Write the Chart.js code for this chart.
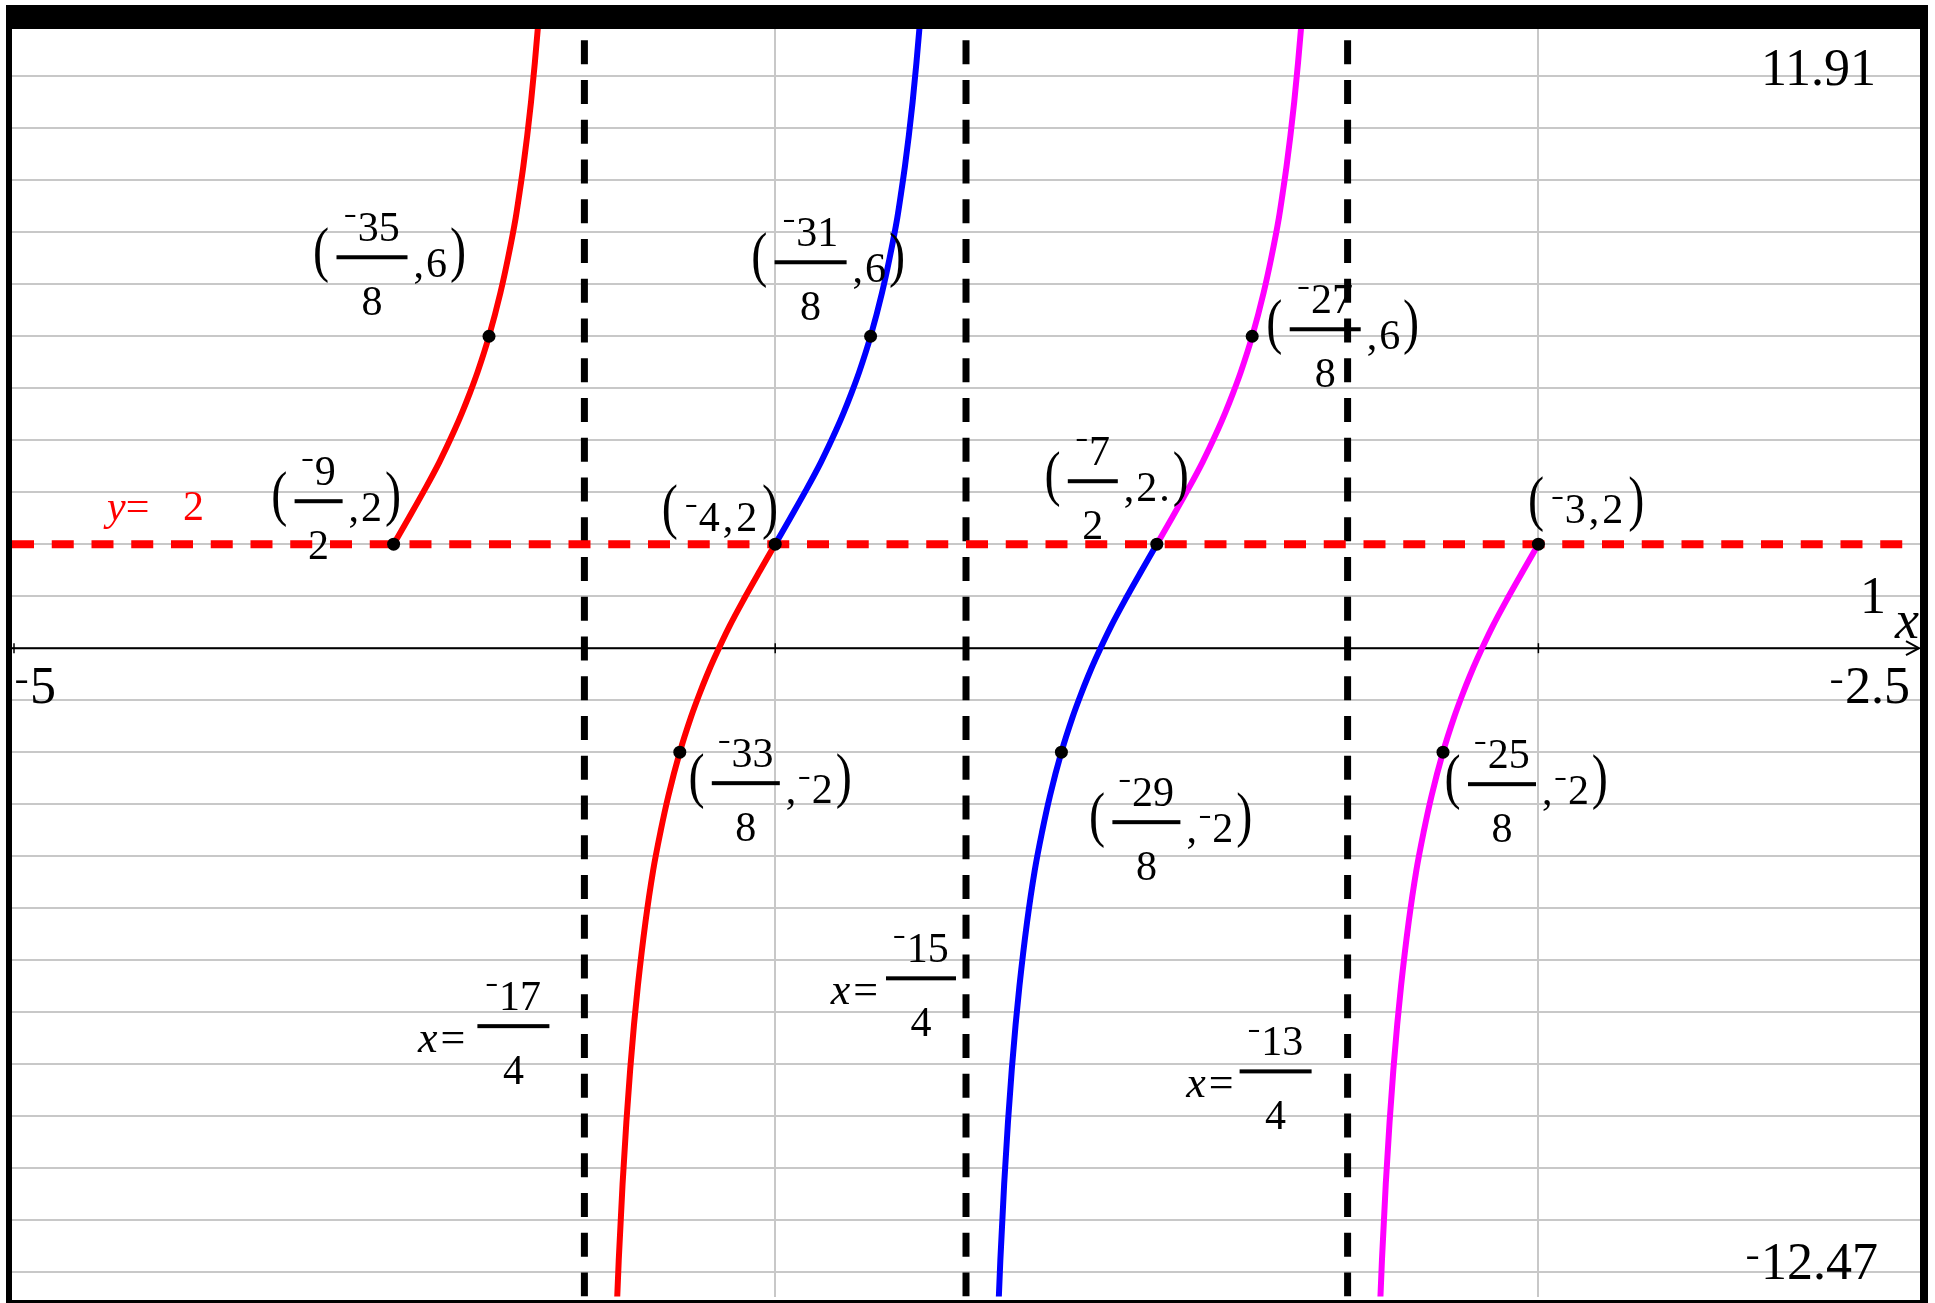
<!DOCTYPE html>
<html>
<head>
<meta charset="utf-8">
<script src="https://cdn.jsdelivr.net/npm/chart.js@4/dist/chart.umd.min.js"></script>
<style>
html,body{margin:0;padding:0;background:#fff;}
#wrap{position:relative;width:1935px;height:1303px;}
canvas{display:block;}
</style>
</head>
<body>
<div id="wrap"><canvas id="c" width="1935" height="1303"></canvas></div>
<script>
// ---------- window ----------
const xMin = -5, xMax = -2.5, yMin = -12.47, yMax = 11.91;
const xScaleStep = 1;

// ---------- grid ticks ----------
const xGridTicks = [-4, -3];
const yGridTicks = [-12,-11,-10,-9,-8,-7,-6,-5,-4,-3,-2,-1,0,1,2,3,4,5,6,7,8,9,10,11];

// ---------- curve branches ----------
const redUpperX = [-4.5,-4.48,-4.46,-4.44,-4.42,-4.41,-4.40,-4.39,-4.375,-4.36,-4.35,-4.34,-4.335,-4.33,-4.325,-4.32,-4.315,-4.31];
const redUpperY = [2,2.51,3.03,3.58,4.20,4.54,4.91,5.31,6,6.84,7.51,8.28,8.76,9.27,9.85,10.50,11.25,12.10];
const redLowerX = [-4.21,-4.205,-4.2,-4.195,-4.19,-4.185,-4.18,-4.17,-4.16,-4.15,-4.14,-4.125,-4.11,-4.10,-4.09,-4.08,-4.06,-4.04,-4.02,-4.0];
const redLowerY = [-13.58,-11.77,-10.31,-9.11,-8.10,-7.24,-6.50,-5.27,-4.28,-3.51,-2.84,-2,-1.31,-0.91,-0.54,-0.20,0.42,0.97,1.49,2];

const blueUpperX = [-4.0,-3.98,-3.96,-3.94,-3.92,-3.91,-3.90,-3.89,-3.875,-3.86,-3.85,-3.84,-3.835,-3.83,-3.825,-3.82,-3.815,-3.81];
const blueUpperY = [2,2.51,3.03,3.58,4.20,4.54,4.91,5.31,6,6.84,7.51,8.28,8.76,9.27,9.85,10.50,11.25,12.10];
const blueLowerX = [-3.71,-3.705,-3.70,-3.695,-3.69,-3.685,-3.68,-3.67,-3.66,-3.65,-3.64,-3.625,-3.61,-3.60,-3.59,-3.58,-3.56,-3.54,-3.52,-3.5];
const blueLowerY = [-13.58,-11.77,-10.31,-9.11,-8.10,-7.24,-6.50,-5.27,-4.28,-3.51,-2.84,-2,-1.31,-0.91,-0.54,-0.20,0.42,0.97,1.49,2];

const magentaUpperX = [-3.5,-3.48,-3.46,-3.44,-3.42,-3.41,-3.40,-3.39,-3.375,-3.36,-3.35,-3.34,-3.335,-3.33,-3.325,-3.32,-3.315,-3.31];
const magentaUpperY = [2,2.51,3.03,3.58,4.20,4.54,4.91,5.31,6,6.84,7.51,8.28,8.76,9.27,9.85,10.50,11.25,12.10];
const magentaLowerX = [-3.21,-3.205,-3.20,-3.195,-3.19,-3.185,-3.18,-3.17,-3.16,-3.15,-3.14,-3.125,-3.11,-3.10,-3.09,-3.08,-3.06,-3.04,-3.02,-3.0];
const magentaLowerY = [-13.58,-11.77,-10.31,-9.11,-8.10,-7.24,-6.50,-5.27,-4.28,-3.51,-2.84,-2,-1.31,-0.91,-0.54,-0.20,0.42,0.97,1.49,2];

// ---------- asymptotes and horizontal line ----------
const asymptoteX = [-4.25, -3.75, -3.25];
const asymptoteNum = ['⁻17', '⁻15', '⁻13'];
const asymptoteDen = ['4', '4', '4'];
const hLineY = 2;
const hLineText = '2';

// ---------- labelled points ----------
const pointX = [-4.5, -4.375, -4.125, -4, -3.875, -3.625, -3.5, -3.375, -3.125, -3];
const pointY = [2, 6, -2, 2, 6, -2, 2, 6, -2, 2];
const pointNum  = ['⁻9', '⁻35', '⁻33', null, '⁻31', '⁻29', '⁻7', '⁻27', '⁻25', null];
const pointDen  = ['2', '8', '8', null, '8', '8', '2', '8', '8', null];
const pointRest = [',2', ',6', ',⁻2', '⁻4,2', ',6', ',⁻2', ',2.', ',6', ',⁻2', '⁻3,2'];

// ---------- label layout (pixel offsets, not data) ----------
const pointLabelLayout = [
  {dx:-75,  dy:-43, w:48},
  {dx:-117, dy:-79, w:71},
  {dx:66,   dy:31,  w:68},
  {dx:-54,  dy:-13},
  {dx:-60,  dy:-74, w:72},
  {dx:85,   dy:70,  w:68},
  {dx:-64,  dy:-63, w:50},
  {dx:73,   dy:-7,  w:71},
  {dx:59,   dy:32,  w:68},
  {dx:49,   dy:-21}
];
const asymLabelLayout = [
  {barDx:-71,  barAt:-7.27, eqRight:-119, w:72},
  {barDx:-45,  barAt:-6.35, eqRight:-88,  w:70},
  {barDx:-72,  barAt:-8.14, eqRight:-114, w:72}
];

const SERIF = '"Liberation Serif", "DejaVu Serif", serif';
const LS = 42;   // label font size
const BS = 52;   // window-value font size

function pts(xs, ys) { return xs.map((x, i) => ({x: x, y: ys[i]})); }
function fmt(v) { return v < 0 ? '⁻' + String(Math.abs(v)) : String(v); }

function curve(label, xs, ys, color) {
  return {label, data: pts(xs, ys), showLine: true, borderColor: color, borderWidth: 6,
    pointRadius: 0, pointHoverRadius: 0, cubicInterpolationMode: 'monotone', fill: false, order: 1};
}

const datasets = [
  curve('red upper', redUpperX, redUpperY, '#ff0000'),
  curve('red lower', redLowerX, redLowerY, '#ff0000'),
  curve('blue upper', blueUpperX, blueUpperY, '#0000ff'),
  curve('blue lower', blueLowerX, blueLowerY, '#0000ff'),
  curve('magenta upper', magentaUpperX, magentaUpperY, '#ff00ff'),
  curve('magenta lower', magentaLowerX, magentaLowerY, '#ff00ff'),
  {label: 'y=2', data: pts([xMin, xMax], [hLineY, hLineY]), showLine: true, borderColor: '#ff0000',
    borderWidth: 8, borderDash: [22, 17.75], pointRadius: 0, order: 2},
];
asymptoteX.forEach((a, i) => {
  datasets.push({label: 'asym' + i, data: pts([a, a], [yMin, yMax]), showLine: true, borderColor: '#000',
    borderWidth: 7, borderDash: [24, 15.75], pointRadius: 0, order: 3});
});
datasets.push({label: 'points', data: pts(pointX, pointY), showLine: false, pointRadius: 6.5,
  pointBackgroundColor: '#000', pointBorderWidth: 0, pointHoverRadius: 6.5, order: 0});

// draws text; the '⁻' sign is drawn as a short raised dash glyph (TI style)
function drawRich(ctx, text, x, y, size, o) {
  o = o || {};
  const italic = !!o.italic, align = o.align || 'left';
  const mLen = o.minusLen || 0.25, mRaise = o.minusRaise || 0.6, spacing = o.spacing || 0;
  const font = (italic ? 'italic ' : '') + size + 'px ' + SERIF;
  const runs = [];
  let buf = '';
  for (const ch of text) {
    if (ch === '⁻') { if (buf) runs.push({t: buf}); buf = ''; runs.push({minus: true}); }
    else buf += ch;
  }
  if (buf) runs.push({t: buf});
  ctx.save();
  ctx.textAlign = 'left';
  ctx.textBaseline = 'alphabetic';
  ctx.font = font;
  ctx.letterSpacing = spacing + 'px';
  let total = 0;
  runs.forEach((r, k) => {
    r.w = r.minus ? size * (mLen + 0.07) : ctx.measureText(r.t).width - (k === runs.length - 1 ? spacing : 0);
    total += r.w;
  });
  let cx = align === 'center' ? x - total / 2 : align === 'right' ? x - total : x;
  runs.forEach(r => {
    if (r.minus) {
      ctx.save();
      ctx.letterSpacing = '0px';
      ctx.font = '100px ' + SERIF;
      const m = ctx.measureText('⁻');
      const gw = m.actualBoundingBoxLeft + m.actualBoundingBoxRight;
      const gh = m.actualBoundingBoxAscent + m.actualBoundingBoxDescent;
      const sx = size * mLen / gw, sy = size * 0.055 / gh;
      ctx.translate(cx + size * 0.02, y - size * mRaise);
      ctx.scale(sx, sy);
      ctx.fillText('⁻', m.actualBoundingBoxLeft, (m.actualBoundingBoxAscent - m.actualBoundingBoxDescent) / 2);
      ctx.restore();
    } else {
      ctx.fillText(r.t, cx, y);
    }
    cx += r.w;
  });
  ctx.restore();
  return total;
}

function drawParen(ctx, ch, x, cy, h, align) {
  ctx.save();
  ctx.textAlign = 'left';
  ctx.textBaseline = 'alphabetic';
  ctx.letterSpacing = '0px';
  ctx.font = '44px ' + SERIF;
  const m = ctx.measureText(ch);
  const asc = m.actualBoundingBoxAscent, desc = m.actualBoundingBoxDescent;
  const s = h / (asc + desc);
  const w = m.actualBoundingBoxLeft + m.actualBoundingBoxRight;
  ctx.translate(x, cy);
  ctx.scale(1.1, s);
  const left = align === 'right' ? -w : 0;
  ctx.fillText(ch, left + m.actualBoundingBoxLeft, (asc - desc) / 2);
  ctx.restore();
  return w * 1.1;
}

function drawFraction(ctx, bx, by, w, num, den) {
  drawRich(ctx, num, bx, by - 16, LS, {align: 'center'});
  drawRich(ctx, den, bx, by + 58, LS, {align: 'center'});
  ctx.fillRect(bx - w / 2, by - 2, w, 4);
}

const overlay = {
  id: 'overlay',
  beforeDatasetsDraw(chart) {
    const ctx = chart.ctx, xs = chart.scales.x, ys = chart.scales.y, ca = chart.chartArea;
    const y0 = ys.getPixelForValue(0);
    ctx.save();
    ctx.strokeStyle = '#000';
    ctx.lineWidth = 2;
    ctx.beginPath();
    ctx.moveTo(ca.left, y0);
    ctx.lineTo(ca.right - 1, y0);
    ctx.stroke();
    ctx.beginPath();
    ctx.moveTo(ca.right - 14, y0 - 7);
    ctx.lineTo(ca.right - 1, y0);
    ctx.lineTo(ca.right - 14, y0 + 7);
    ctx.stroke();
    ctx.lineWidth = 1.5;
    [xMin].concat(xGridTicks).forEach(v => {
      const px = xs.getPixelForValue(v) + (v === xMin ? 2 : 0);
      ctx.beginPath();
      ctx.moveTo(px, y0 - 5);
      ctx.lineTo(px, y0 + 5);
      ctx.stroke();
    });
    ctx.restore();
  },
  afterDatasetsDraw(chart) {
    const ctx = chart.ctx, xs = chart.scales.x, ys = chart.scales.y, ca = chart.chartArea;
    ctx.save();
    ctx.fillStyle = '#000';
    // point labels
    pointX.forEach((x, i) => {
      const px = xs.getPixelForValue(x), py = ys.getPixelForValue(pointY[i]);
      const L = pointLabelLayout[i];
      if (pointNum[i]) {
        const bx = px + L.dx, by = py + L.dy;
        drawFraction(ctx, bx, by, L.w, pointNum[i], pointDen[i]);
        drawParen(ctx, '(', bx - L.w / 2 - 8, by - 2, 58, 'right');
        const rx = bx + L.w / 2 + 6;
        const rw = drawRich(ctx, pointRest[i], rx, by + 20, LS, {spacing: 2});
        drawParen(ctx, ')', rx + rw + 4, by - 2, 58, 'left');
      } else {
        const cx = px + L.dx, base = py + L.dy;
        const w = drawRich(ctx, pointRest[i], cx, base, LS, {align: 'center', spacing: 3});
        drawParen(ctx, '(', cx - w / 2 - 8, base - 19, 58, 'right');
        drawParen(ctx, ')', cx + w / 2 + 6, base - 19, 58, 'left');
      }
    });
    // asymptote labels
    asymptoteX.forEach((a, i) => {
      const L = asymLabelLayout[i];
      const ax = xs.getPixelForValue(a), by = ys.getPixelForValue(L.barAt);
      drawFraction(ctx, ax + L.barDx, by, L.w, asymptoteNum[i], asymptoteDen[i]);
      ctx.save();
      ctx.textAlign = 'left';
      ctx.textBaseline = 'alphabetic';
      ctx.font = '44px ' + SERIF;
      const eqW = ctx.measureText('=').width;
      ctx.font = 'italic 44px ' + SERIF;
      const xW = ctx.measureText('x').width;
      const right = ax + L.eqRight;
      ctx.fillText('x', right - eqW - xW - 3, by + 26);
      ctx.font = '44px ' + SERIF;
      ctx.fillText('=', right - eqW, by + 26);
      ctx.restore();
    });
    // y = 2 label
    const hy = ys.getPixelForValue(hLineY);
    ctx.fillStyle = '#ff0000';
    const yw = drawRich(ctx, 'y', ca.left + 95, hy - 24, LS, {italic: true});
    drawRich(ctx, '=', ca.left + 95 + yw, hy - 24, LS);
    drawRich(ctx, hLineText, ca.left + 171, hy - 24, LS);
    // window labels
    ctx.fillStyle = '#000';
    const y0 = ys.getPixelForValue(0);
    const big = {minusLen: 0.22, minusRaise: 0.4};
    drawRich(ctx, fmt(yMax), ca.right - 44, ca.top + 56, BS, Object.assign({align: 'right'}, big));
    drawRich(ctx, fmt(yMin), ca.right - 42, ca.bottom - 18, BS, Object.assign({align: 'right'}, big));
    drawRich(ctx, fmt(xMax), ca.right - 10, y0 + 55, BS, Object.assign({align: 'right'}, big));
    drawRich(ctx, String(xScaleStep), ca.right - 34, y0 - 35, BS, {align: 'right'});
    drawRich(ctx, fmt(xMin), ca.left + 3, y0 + 55, BS, big);
    drawRich(ctx, 'x', ca.right - 25, y0 - 10, 54, {italic: true});
    ctx.restore();
  },
  afterDraw(chart) {
    const ctx = chart.ctx;
    ctx.save();
    ctx.fillStyle = '#000';
    ctx.fillRect(6, 5, 1922, 24);     // top bar
    ctx.fillRect(6, 5, 6, 1298);      // left border
    ctx.fillRect(1920, 5, 8, 1298);   // right border
    ctx.fillRect(6, 1300, 1922, 3);   // bottom border
    ctx.restore();
  }
};

new Chart(document.getElementById('c'), {
  type: 'scatter',
  data: {datasets},
  options: {
    responsive: false,
    animation: false,
    events: [],
    layout: {padding: {left: 12, right: 15, top: 29, bottom: 3}},
    plugins: {legend: {display: false}, tooltip: {enabled: false}},
    scales: {
      x: {
        type: 'linear', min: xMin, max: xMax,
        ticks: {display: false, stepSize: 1, maxTicksLimit: 100},
        grid: {color: '#c8c8c8', lineWidth: 2, drawTicks: false},
        border: {display: false},
        afterBuildTicks: (axis) => { axis.ticks = xGridTicks.map(v => ({value: v})); }
      },
      y: {
        type: 'linear', min: yMin, max: yMax,
        ticks: {display: false, stepSize: 1, maxTicksLimit: 100},
        grid: {color: '#c8c8c8', lineWidth: 2, drawTicks: false},
        border: {display: false},
        afterBuildTicks: (axis) => { axis.ticks = yGridTicks.map(v => ({value: v})); }
      }
    }
  },
  plugins: [overlay]
});
</script>
</body>
</html>
